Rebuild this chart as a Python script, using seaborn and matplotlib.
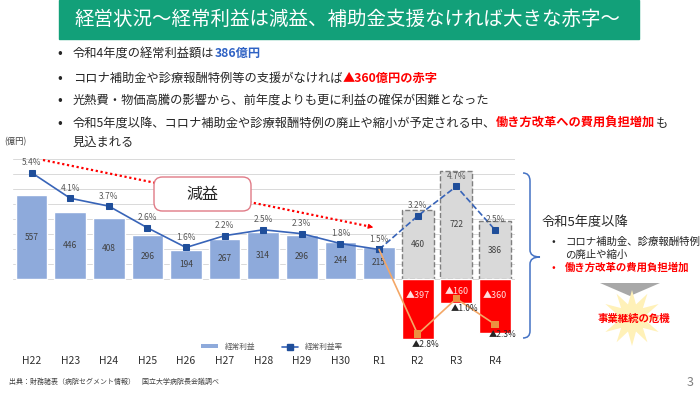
import numpy as np
import pandas as pd
import matplotlib
matplotlib.use("Agg")
import matplotlib.pyplot as plt
import seaborn as sns
from matplotlib.patches import Rectangle, FancyBboxPatch, Polygon, Patch, PathPatch, FancyArrowPatch
from matplotlib.lines import Line2D
from matplotlib.path import Path

# データ（億円 / %）
years = ['H22', 'H23', 'H24', 'H25', 'H26', 'H27', 'H28', 'H29', 'H30', 'R1', 'R2', 'R3', 'R4']
past_years = years[:10]
profit = [557, 446, 408, 296, 194, 267, 314, 296, 244, 215]
profit_rate = [5.4, 4.1, 3.7, 2.6, 1.6, 2.2, 2.5, 2.3, 1.8, 1.5]
future_years = ['R2', 'R3', 'R4']
support_profit = [460, 722, 386]
support_rate = [3.2, 4.7, 2.5]
deficit = [397, 160, 360]
deficit_rate = [2.8, 1.0, 2.3]

W, H = 700, 393
BLUE_BAR = '#8eaadb'
BLUE_LINE = '#3864b8'
BLUE_MARK = '#1f4e9a'
ORANGE_LINE = '#f4a766'
ORANGE_MARK = '#ec9040'
RED = '#ff0000'
TXT = '#262626'


def px(x, y):
    """ピクセル座標 -> figure座標"""
    return (x / W, 1 - y / H)


sns.set_style("white")
plt.rcParams['font.family'] = ['Noto Sans CJK JP', 'DejaVu Sans']

fig = plt.figure(figsize=(7, 3.93), dpi=100)
fig.patch.set_facecolor('white')

# タイトルバー
fig.add_artist(Rectangle(px(59, 39), 580 / W, 39 / H, color='#12a079',
                         transform=fig.transFigure, zorder=1))
fig.text(*px(75, 19), '経営状況～経常利益は減益、補助金支援なければ大きな赤字～',
         color='white', fontsize=14, va='center', ha='left')

# 軸
ax = fig.add_axes([13 / W, 1 - 345 / H, 502 / W, 186 / H])
YMIN, YMAX = -440, 800
UNITS_PER_PCT = 131.3


def rich_line(y, parts, size=8.8, x=73):
    s, c, w = parts[0]
    t = fig.text(*px(x, y), s, color=c, fontweight=w, fontsize=size, va='center', ha='left')
    for s, c, w in parts[1:]:
        t = ax.annotate(s, xy=(1, 0.5), xycoords=t, color=c, fontweight=w,
                        fontsize=size, va='center', ha='left')
    return t


# 箇条書き
for y in [53, 78, 100, 123]:
    fig.text(*px(57, y), '•', color=TXT, fontsize=10, va='center', ha='left')
rich_line(53, [('令和4年度の経常利益額は', TXT, 'normal'), ('386億円', '#2f62c4', 'bold')])
rich_line(78, [('コロナ補助金や診療報酬特例等の支援がなければ', TXT, 'normal'),
               ('▲360億円の赤字', RED, 'bold')])
rich_line(100, [('光熱費・物価高騰の影響から、前年度よりも更に利益の確保が困難となった', TXT, 'normal')])
rich_line(123, [('令和5年度以降、コロナ補助金や診療報酬特例の廃止や縮小が予定される中、', TXT, 'normal'),
                ('働き方改革への費用負担増加', RED, 'bold'), ('も', TXT, 'normal')])
rich_line(142, [('見込まれる', TXT, 'normal')])
fig.text(*px(4, 142), '(億円)', color='#404040', fontsize=6, va='center', ha='left')

# 棒グラフ
df_past = pd.DataFrame({'year': past_years, 'profit': profit})
sns.barplot(data=df_past, x='year', y='profit', order=years, color=BLUE_BAR,
            saturation=1, width=0.82, ax=ax)
sns.barplot(x=future_years, y=support_profit, order=years, color='#d9d9d9', saturation=1,
            width=0.82, edgecolor='#7f7f7f', linestyle='--', linewidth=1.0, ax=ax)
sns.barplot(x=future_years, y=[-d for d in deficit], order=years, color=RED,
            saturation=1, width=0.82, ax=ax)

ax.set_xlim(-0.48, 12.52)
ax.set_ylim(YMIN, YMAX)
ax.set_yticks(range(0, 801, 100))
ax.set_yticklabels([])
ax.grid(axis='y', color='#d9d9d9', lw=0.7)
ax.set_axisbelow(True)
ax.set_xlabel('')
ax.set_ylabel('')
for sp in ax.spines.values():
    sp.set_visible(False)
ax.tick_params(axis='both', length=0)
ax.tick_params(axis='x', pad=8, labelsize=7.5, labelcolor='#303030')

for i, v in enumerate(profit):
    ax.text(i, v / 2, str(v), ha='center', va='center', fontsize=6, color='#404040')
for j, v in enumerate(support_profit):
    ax.text(10 + j, v / 2, str(v), ha='center', va='center', fontsize=6, color='#404040')
for j, d in enumerate(deficit):
    ax.text(10 + j, -min(d * 0.5, 108), f'▲{d}', ha='center', va='center',
            fontsize=6.5, color='#ffdede')

# 経常利益率（第2軸）
ax2 = ax.twinx()
ax2.set_ylim(YMIN / UNITS_PER_PCT, YMAX / UNITS_PER_PCT)
ax2.axis('off')
ax2.set_xlim(ax.get_xlim())

mk = dict(marker='s', markersize=5, markerfacecolor=BLUE_MARK, markeredgecolor=BLUE_MARK)
sns.lineplot(x=list(range(10)), y=profit_rate, ax=ax2, color=BLUE_LINE, lw=1.2, **mk)
fut_idx = [9, 10, 11, 12]
sns.lineplot(x=fut_idx, y=[profit_rate[-1]] + support_rate, ax=ax2, color=BLUE_LINE,
             lw=1.2, linestyle='--', **mk)
sns.lineplot(x=fut_idx, y=[profit_rate[-1]] + [-r for r in deficit_rate], ax=ax2,
             color=ORANGE_LINE, lw=1.2)
sns.scatterplot(x=fut_idx[1:], y=[-r for r in deficit_rate], ax=ax2, marker='s', s=28,
                color=ORANGE_MARK, edgecolor='none', zorder=5)

for i, r in enumerate(profit_rate):
    ax2.annotate(f'{r}%', (i, r), xytext=(0, 10), textcoords='offset pixels',
                 ha='center', va='center', fontsize=6, color='#595959')
for j, r in enumerate(support_rate):
    ax2.annotate(f'{r}%', (10 + j, r), xytext=(0, 10), textcoords='offset pixels',
                 ha='center', va='center', fontsize=6, color='#595959')
for j, r in enumerate(deficit_rate):
    ax2.annotate(f'▲{r}%', (10 + j, -r), xytext=(8, -10), textcoords='offset pixels',
                 ha='center', va='center', fontsize=6, color='#262626')

# 凡例
handles = [Patch(facecolor=BLUE_BAR, edgecolor='none'),
           Line2D([], [], color=BLUE_LINE, lw=1.2, **mk)]
fig.legend(handles, ['経常利益', '経常利益率'], loc='center', bbox_to_anchor=px(272, 347),
           ncol=2, frameon=False, fontsize=5.5, handlelength=2.2, handleheight=0.5,
           columnspacing=3.5, labelcolor='#595959')

# 減益の矢印と吹き出し
p0, p1 = px(43, 160), px(372, 227)
fig.add_artist(Line2D([p0[0], p1[0]], [p0[1], p1[1]], transform=fig.transFigure,
                      color=RED, lw=1.6, ls=(0, (1, 1.2))))
fig.add_artist(FancyArrowPatch(px(366, 225.8), px(376, 228), transform=fig.transFigure,
                               arrowstyle='-|>', mutation_scale=7, color=RED, lw=0.8))
fig.add_artist(FancyBboxPatch(px(154, 211), 97 / W, 34 / H, transform=fig.transFigure,
                              boxstyle='round,pad=0,rounding_size=0.012',
                              mutation_aspect=W / H, fc='white', ec='#e07a86', lw=1.0, zorder=5))
fig.text(*px(202, 194), '減益', fontsize=11.5, color=TXT, ha='center', va='center', zorder=6)

# 右側の括弧
b = [px(523, 173), px(530, 173), px(530, 181), px(530, 250), px(530, 257), px(540, 257),
     px(530, 257), px(530, 264), px(530, 331), px(530, 338), px(523, 338)]
codes = [Path.MOVETO, Path.CURVE3, Path.CURVE3, Path.LINETO, Path.CURVE3, Path.CURVE3,
         Path.CURVE3, Path.CURVE3, Path.LINETO, Path.CURVE3, Path.CURVE3]
fig.add_artist(PathPatch(Path(b, codes), transform=fig.transFigure, fc='none',
                         ec='#4472c4', lw=1.1))

fig.text(*px(542, 222), '令和5年度以降', fontsize=9.5, color=TXT, va='center', ha='left')
fig.text(*px(551, 242), '•', fontsize=8, color=TXT, va='center', ha='left')
fig.text(*px(565, 242), 'コロナ補助金、診療報酬特例', fontsize=7.5, color=TXT, va='center', ha='left')
fig.text(*px(565, 255), 'の廃止や縮小', fontsize=7.5, color=TXT, va='center', ha='left')
fig.text(*px(551, 268), '•', fontsize=8, color=RED, va='center', ha='left')
fig.text(*px(565, 268), '働き方改革の費用負担増加', fontsize=7.5, color=RED,
         fontweight='bold', va='center', ha='left')

# 下向き矢印と爆発図形
fig.add_artist(Polygon([px(600, 283), px(660, 283), px(630, 296)], closed=True,
                       transform=fig.transFigure, fc='#a8a8a8', ec='none'))
ang = np.linspace(0, 2 * np.pi, 25)[:-1]
rad = np.where(np.arange(24) % 2 == 0, 28, 14)
star = [px(632 + r * np.cos(a) * 1.1, 318 + r * np.sin(a)) for r, a in zip(rad, ang)]
fig.add_artist(Polygon(star, closed=True, transform=fig.transFigure,
                       fc='#fff1b8', ec='none', zorder=1))
fig.text(*px(634, 319), '事業継続の危機', fontsize=7.5, color=RED, fontweight='bold',
         ha='center', va='center', zorder=4)

# 出典とページ番号
fig.text(*px(9, 382), '出典：財務諸表（病院セグメント情報）　国立大学病院長会議調べ',
         fontsize=5, color='#404040', va='center', ha='left')
fig.text(*px(690, 382), '3', fontsize=9, color='#7f7f7f', va='center', ha='center')

fig.savefig('out.png', dpi=100)
